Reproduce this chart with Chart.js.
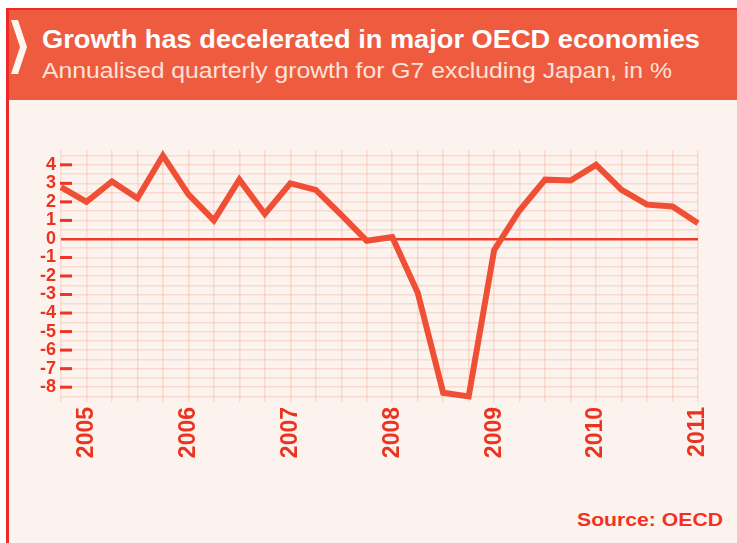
<!DOCTYPE html>
<html><head><meta charset="utf-8">
<script src="https://cdn.jsdelivr.net/npm/chart.js@4"></script>
<style>
html,body{margin:0;padding:0;background:#fff;width:737px;height:543px;overflow:hidden}
#frame{position:absolute;left:6px;top:8px;width:731px;height:535px;background:#fdf3ee;border-left:3px solid #ee2a24;border-top:2px solid #ee2a24;box-sizing:border-box}
#head{position:absolute;left:9px;top:10px;width:728px;height:90px;background:#ef5b3f}
.t{position:absolute;white-space:nowrap;transform-origin:0 0;font-family:"Liberation Sans",Arial,sans-serif;line-height:1}
#title{left:42px;top:26px;color:#fff;font-weight:bold;font-size:26px}
#sub{left:42px;top:60px;color:#fde2d8;font-size:22px}
#src{left:577px;top:510px;color:#ee3424;font-weight:bold;font-size:19px}
#chev{position:absolute;left:0;top:0}
#wrap{position:absolute;left:0;top:0;width:737px;height:543px}
</style></head>
<body>
<div id="frame"></div>
<div id="head"></div>
<svg id="chev" width="40" height="100"><polygon points="11,20 18,20 27,47 18,74 11,74 20,47" fill="#fff6f1"/></svg>
<div class="t" id="title" data-w="658">Growth has decelerated in major OECD economies</div>
<div class="t" id="sub" data-w="630">Annualised quarterly growth for G7 excluding Japan, in %</div>
<div class="t" id="src" data-w="146">Source: OECD</div>
<div id="wrap"><canvas id="c" width="737" height="543"></canvas></div>
<script>
// Quarterly categories (2004 Q4 .. 2011 Q1)
const categories = ['2004Q4','2005Q1','2005Q2','2005Q3','2005Q4','2006Q1','2006Q2','2006Q3','2006Q4',
  '2007Q1','2007Q2','2007Q3','2007Q4','2008Q1','2008Q2','2008Q3','2008Q4','2009Q1','2009Q2','2009Q3',
  '2009Q4','2010Q1','2010Q2','2010Q3','2010Q4','2011Q1'];
// Annualised quarterly growth, %
const growth = [2.8, 2.0, 3.1, 2.2, 4.5, 2.4, 1.0, 3.2, 1.35, 3.0, 2.65, 1.3, -0.1, 0.1, -2.9, -8.3, -8.5,
  -0.6, 1.55, 3.2, 3.15, 4.0, 2.65, 1.85, 1.75, 0.85];
// Year tick labels shown on the x axis
const yearLabels = ['2005','2006','2007','2008','2009','2010','2011'];
// Y axis labelled values
const yTickValues = [4,3,2,1,0,-1,-2,-3,-4,-5,-6,-7,-8];

document.querySelectorAll('.t').forEach(el=>{
  const w = el.getBoundingClientRect().width;
  el.style.transform = 'scaleX(' + (parseFloat(el.dataset.w)/w) + ')';
});

const RED = '#ee3424';
const tickMarks = {
  id:'tickMarks',
  afterDatasetsDraw(chart){
    const y = chart.scales.y, ctx = chart.ctx, left = chart.chartArea.left;
    ctx.save();
    ctx.strokeStyle = RED; ctx.lineWidth = 3;
    yTickValues.forEach(v=>{
      if (v===0) return;
      const py = y.getPixelForValue(v);
      ctx.beginPath(); ctx.moveTo(left-1, py); ctx.lineTo(left+11, py); ctx.stroke();
    });
    ctx.restore();
  }
};

new Chart(document.getElementById('c'), {
  type:'line',
  data:{ labels:categories, datasets:[{ data:growth, borderColor:'#ef5035', borderWidth:6,
    pointRadius:0, tension:0, clip:false, borderJoinStyle:'miter', borderCapStyle:'butt' }]},
  options:{
    responsive:false, animation:false, devicePixelRatio:1,
    layout:{ padding:{ left:0, right:39, top:150, bottom:71 } },
    plugins:{ legend:{display:false}, tooltip:{enabled:false}, title:{display:false} },
    scales:{
      x:{
        offset:false,
        afterFit(s){ s.height = 70; },
        border:{display:false},
        grid:{ color:'rgba(240,130,100,0.22)', lineWidth:1.5, drawTicks:false },
        ticks:{ autoSkip:false, maxRotation:90, minRotation:90, padding:5, color:'#ea3320',
          font:{ family:'"Liberation Sans", Arial, sans-serif', weight:'bold', size:23 },
          callback(v,i){ const c = categories[i]; return c.endsWith('Q1') ? yearLabels[yearLabels.indexOf(c.slice(0,4))] : ''; } }
      },
      y:{
        min:-8.8, max:4.8,
        afterFit(s){ s.width = 61; },
        border:{display:false},
        grid:{ drawTicks:false,
          color(ctx){ return ctx.tick && ctx.tick.value===0 ? '#f03a28' : 'rgba(240,130,100,0.22)'; },
          lineWidth(ctx){ return ctx.tick && ctx.tick.value===0 ? 2.5 : 1.5; } },
        ticks:{ stepSize:0.5, includeBounds:false, autoSkip:false, padding:5, color:'#ea3320',
          font:{ family:'"Liberation Sans", Arial, sans-serif', weight:'bold', size:18 },
          callback(v){ return yTickValues.includes(v) ? String(v) : ''; } }
      }
    }
  },
  plugins:[tickMarks]
});
</script>
</body></html>
